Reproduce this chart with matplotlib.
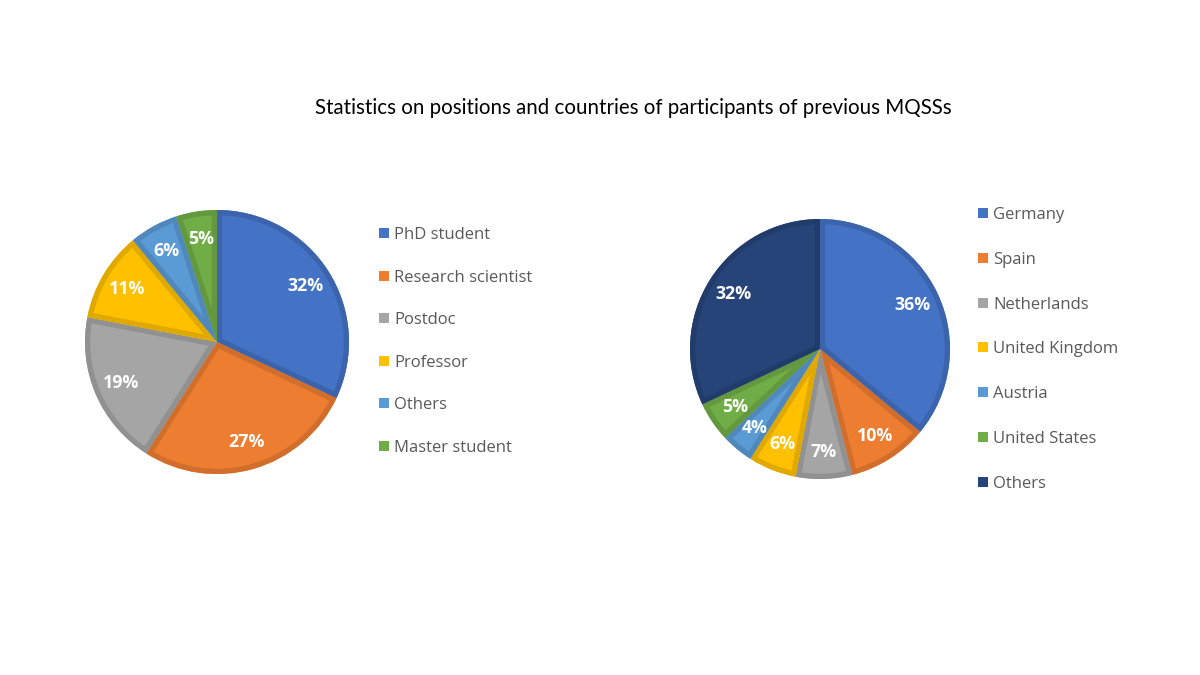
import matplotlib
matplotlib.use("Agg")
import matplotlib.pyplot as plt
import matplotlib.colors as mcolors
from matplotlib.patches import Rectangle, PathPatch

title = "Statistics on positions and countries of participants of previous MQSSs"

positions = ["PhD student", "Research scientist", "Postdoc", "Professor", "Others", "Master student"]
positions_pct = [32, 27, 19, 11, 6, 5]
positions_colors = ["#4472C4", "#ED7D31", "#A5A5A5", "#FFC000", "#5B9BD5", "#70AD47"]

countries = ["Germany", "Spain", "Netherlands", "United Kingdom", "Austria", "United States", "Others"]
countries_pct = [36, 10, 7, 6, 4, 5, 32]
countries_colors = ["#4472C4", "#ED7D31", "#A5A5A5", "#FFC000", "#5B9BD5", "#70AD47", "#264478"]

W, H = 1200, 675
fig = plt.figure(figsize=(12, 6.75), dpi=100)
fig.patch.set_facecolor("white")


def darker(c, f=0.88):
    r, g, b = mcolors.to_rgb(c)
    return (r * f, g * f, b * f)


def draw_pie(cx, cy, r, values, colors):
    ax = fig.add_axes([(cx - r) / W, (H - cy - r) / H, 2 * r / W, 2 * r / H])
    wedges, texts = ax.pie(values, colors=colors, startangle=90, counterclock=False,
                           labels=[f"{v}%" for v in values], labeldistance=0.79,
                           radius=1.0, wedgeprops=dict(linewidth=0, edgecolor="none"),
                           textprops=dict(color="white", fontsize=12.8, fontweight="bold",
                                          family="Open Sans", ha="center", va="center"))
    for t in texts:
        t.set_ha("center")
        t.set_va("center")
        t.set_zorder(10)
    for w, c in zip(wedges, colors):
        stroke = PathPatch(w.get_path(), transform=w.get_transform(),
                           facecolor="none", edgecolor=darker(c), linewidth=7.5,
                           joinstyle="round", zorder=w.get_zorder() + 0.5)
        ax.add_patch(stroke)
        stroke.set_clip_path(w)
    ax.set_xlim(-1, 1)
    ax.set_ylim(-1, 1)
    ax.set_aspect("equal")
    ax.axis("off")
    return ax


def draw_legend(x, y0, dy, labels, colors):
    for i, (lab, c) in enumerate(zip(labels, colors)):
        y = y0 + i * dy
        fig.patches.append(Rectangle(((x - 5) / W, (H - y - 5) / H), 10 / W, 10 / H,
                                     transform=fig.transFigure, facecolor=c,
                                     edgecolor="none"))
        fig.text((x + 10) / W, (H - y - 2) / H, lab, ha="left", va="center",
                 fontsize=12, color="#595959", family="Open Sans")


draw_pie(217, 342, 132, positions_pct, positions_colors)
draw_pie(820, 349, 130, countries_pct, countries_colors)

draw_legend(384, 233, 42.6, positions, positions_colors)
draw_legend(983, 213, 44.8, countries, countries_colors)

fig.text(633 / W, (H - 108) / H, title, ha="center", va="center",
         fontsize=14.8, color="black", family="Lato")

fig.savefig("out.png", dpi=100, facecolor="white")
